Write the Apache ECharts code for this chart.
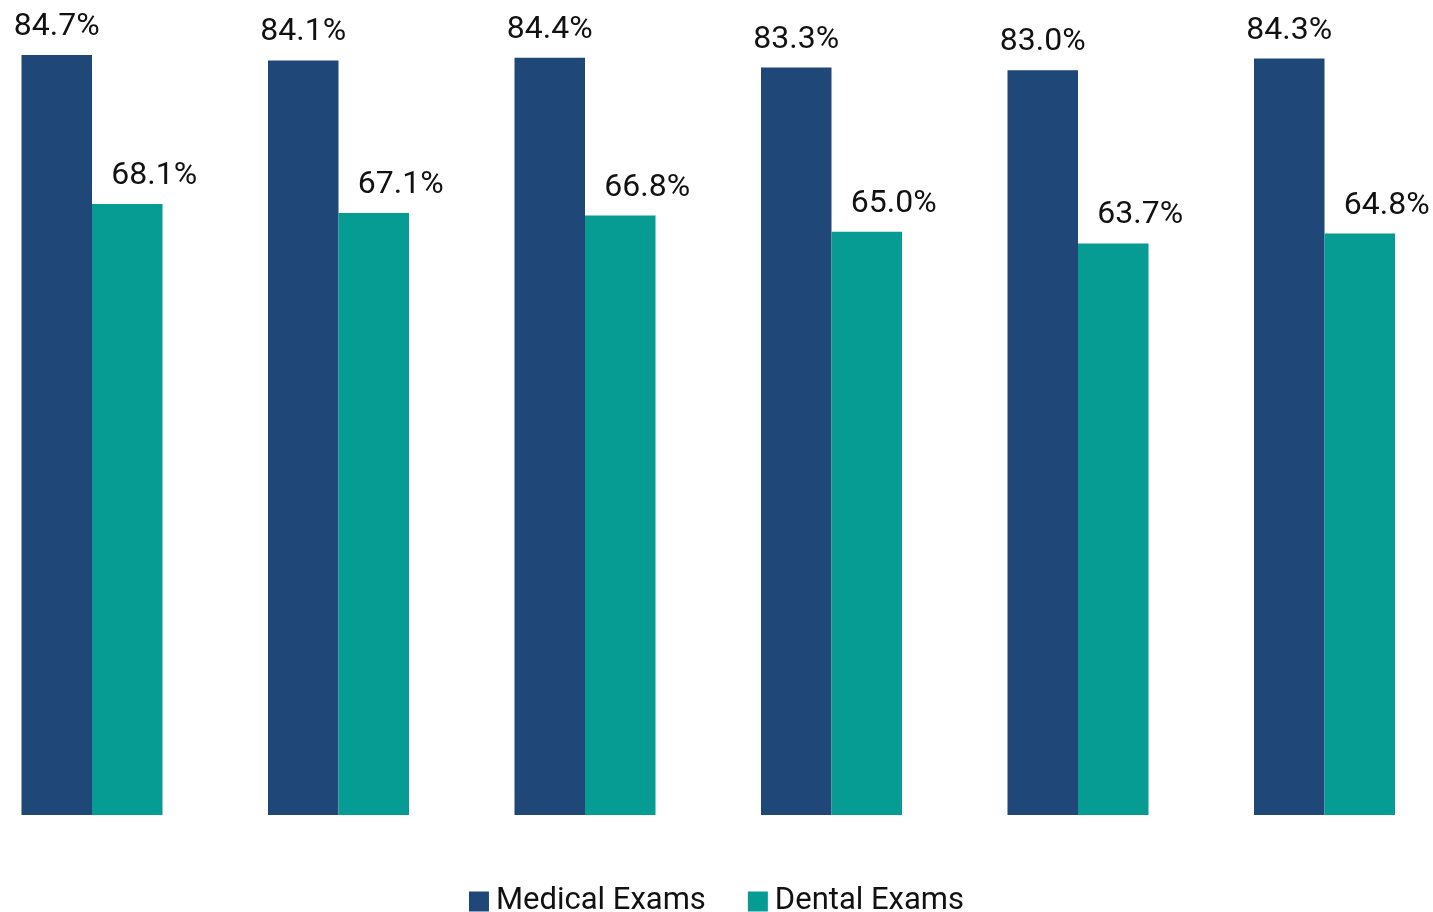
<!DOCTYPE html>
<html>
<head>
<meta charset="utf-8">
<script src="https://cdn.jsdelivr.net/npm/echarts@6/dist/echarts.min.js"></script>
<style>
  html, body { margin: 0; padding: 0; background: #fff; }
  #chart { width: 1433px; height: 912px; }
</style>
</head>
<body>
<div id="chart"></div>
<script>
// groups have no visible labels in the source
const categories = ['1', '2', '3', '4', '5', '6'];
const medicalExams = [84.7, 84.1, 84.4, 83.3, 83.0, 84.3];
const dentalExams = [68.1, 67.1, 66.8, 65.0, 63.7, 64.8];

const chart = echarts.init(document.getElementById('chart'));

const labelStyle = {
  show: true,
  position: 'top',
  distance: 12,
  color: '#111',
  fontFamily: 'Roboto',
  fontSize: 32,
  formatter: (p) => p.value.toFixed(1) + '%'
};

chart.setOption({
  animation: false,
  // ticks sit on the group centres, bars spill past the grid edges
  grid: { left: 92, right: 108.5, top: 0, bottom: 97 },
  legend: {
    left: 'center',
    top: 881,
    itemWidth: 20,
    itemHeight: 20,
    itemGap: 42,
    icon: 'rect',
    textStyle: { fontFamily: 'Roboto', fontSize: 31, color: '#111', padding: [0, 0, 0, 2] },
    data: ['Medical Exams', 'Dental Exams']
  },
  xAxis: {
    type: 'category',
    data: categories,
    boundaryGap: false,
    axisLine: { show: false },
    axisTick: { show: false },
    axisLabel: { show: false }
  },
  yAxis: {
    type: 'value',
    min: 0,
    max: 90.83,
    show: false,
    splitLine: { show: false }
  },
  series: [
    {
      name: 'Medical Exams',
      type: 'bar',
      clip: false,
      barWidth: 70.5,
      barGap: '0%',
      itemStyle: { color: '#1F4778' },
      label: labelStyle,
      data: medicalExams
    },
    {
      name: 'Dental Exams',
      type: 'bar',
      clip: false,
      barWidth: 70.5,
      itemStyle: { color: '#069C94' },
      label: Object.assign({}, labelStyle, { offset: [27, 0] }),
      data: dentalExams
    }
  ]
});
</script>
</body>
</html>
